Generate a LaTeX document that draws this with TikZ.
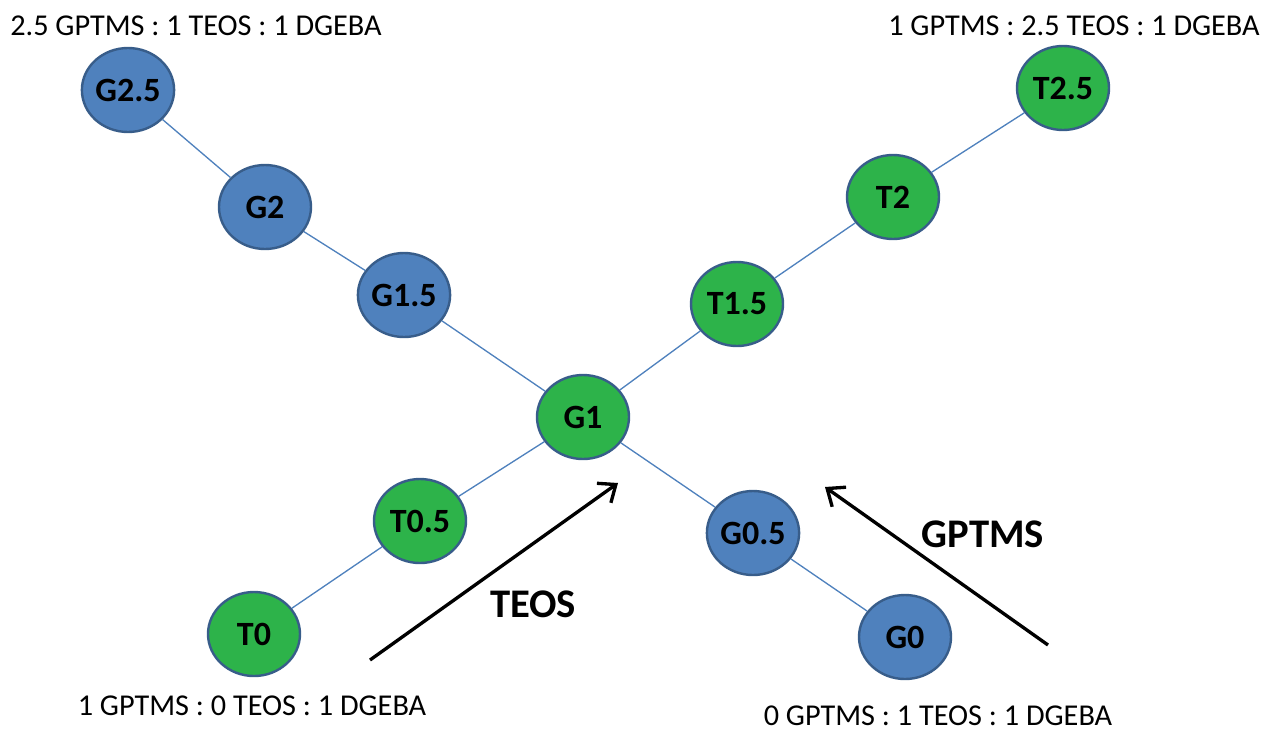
\documentclass[tikz,border=0pt]{standalone}
\usepackage{fontspec}
\setmainfont{Carlito}
\usetikzlibrary{arrows.meta,shapes.geometric}
\definecolor{nblue}{HTML}{4F81BD}
\definecolor{nborder}{HTML}{385D8A}
\definecolor{ngreen}{HTML}{2DB34A}
\tikzset{
  bnode/.style={ellipse, draw=nborder, line width=1.8pt, fill=nblue, minimum width=92pt*0.75, minimum height=84pt*0.75, inner sep=0pt, font=\fontsize{25.5}{30}\selectfont\bfseries},
  gnode/.style={bnode, fill=ngreen},
  link/.style={draw=nblue, line width=1pt},
  bigarrow/.style={draw=black, line width=2.5pt, -{Straight Barb[length=11pt, width=18pt, line width=2.5pt]}},
  ratio/.style={inner sep=0pt, font=\fontsize{22.7}{27}\selectfont},
  dirlabel/.style={font=\fontsize{30.5}{36}\selectfont\bfseries}
}
\begin{document}
\begin{tikzpicture}[x=0.75pt, y=-0.75pt]
\useasboundingbox (0,0) rectangle (1263,732);
\node[bnode] (G25) at (128,90) {G2.5};
\node[bnode] (G2) at (265,207) {G2};
\node[bnode] (G15) at (404,295) {G1.5};
\node[gnode] (G1) at (583,417) {G1};
\node[gnode] (T15) at (737,304) {T1.5};
\node[gnode] (T2) at (893,197) {T2};
\node[gnode] (T25) at (1063,88) {T2.5};
\node[gnode] (T05) at (420,521) {T0.5};
\node[gnode] (T0) at (254,634) {T0};
\node[bnode] (G05) at (753,533) {G0.5};
\node[bnode] (G0) at (905,637) {G0};
\draw[link] (G25) -- (G2);
\draw[link] (G2) -- (G15);
\draw[link] (G15) -- (G1);
\draw[link] (G1) -- (T15);
\draw[link] (T15) -- (T2);
\draw[link] (T2) -- (T25);
\draw[link] (G1) -- (T05);
\draw[link] (T05) -- (T0);
\draw[link] (G1) -- (G05);
\draw[link] (G05) -- (G0);
\coordinate (a1s) at (370,660);
\coordinate (a1e) at (618,483);
\coordinate (a2s) at (1048,645);
\coordinate (a2e) at (825,487);
\draw[bigarrow] (a1s) -- (a1e);
\draw[bigarrow] (a2s) -- (a2e);
\node[dirlabel] (teos) at (533,604) {TEOS};
\node[dirlabel] (gptms) at (983,534) {GPTMS};
\node[ratio] (r1) at (196,26) {2.5 GPTMS : 1 TEOS : 1 DGEBA};
\node[ratio] (r2) at (1074,26) {1 GPTMS : 2.5 TEOS : 1 DGEBA};
\node[ratio] (r3) at (252,706) {1 GPTMS : 0 TEOS : 1 DGEBA};
\node[ratio] (r4) at (938,716) {0 GPTMS : 1 TEOS : 1 DGEBA};
\end{tikzpicture}
\end{document}
